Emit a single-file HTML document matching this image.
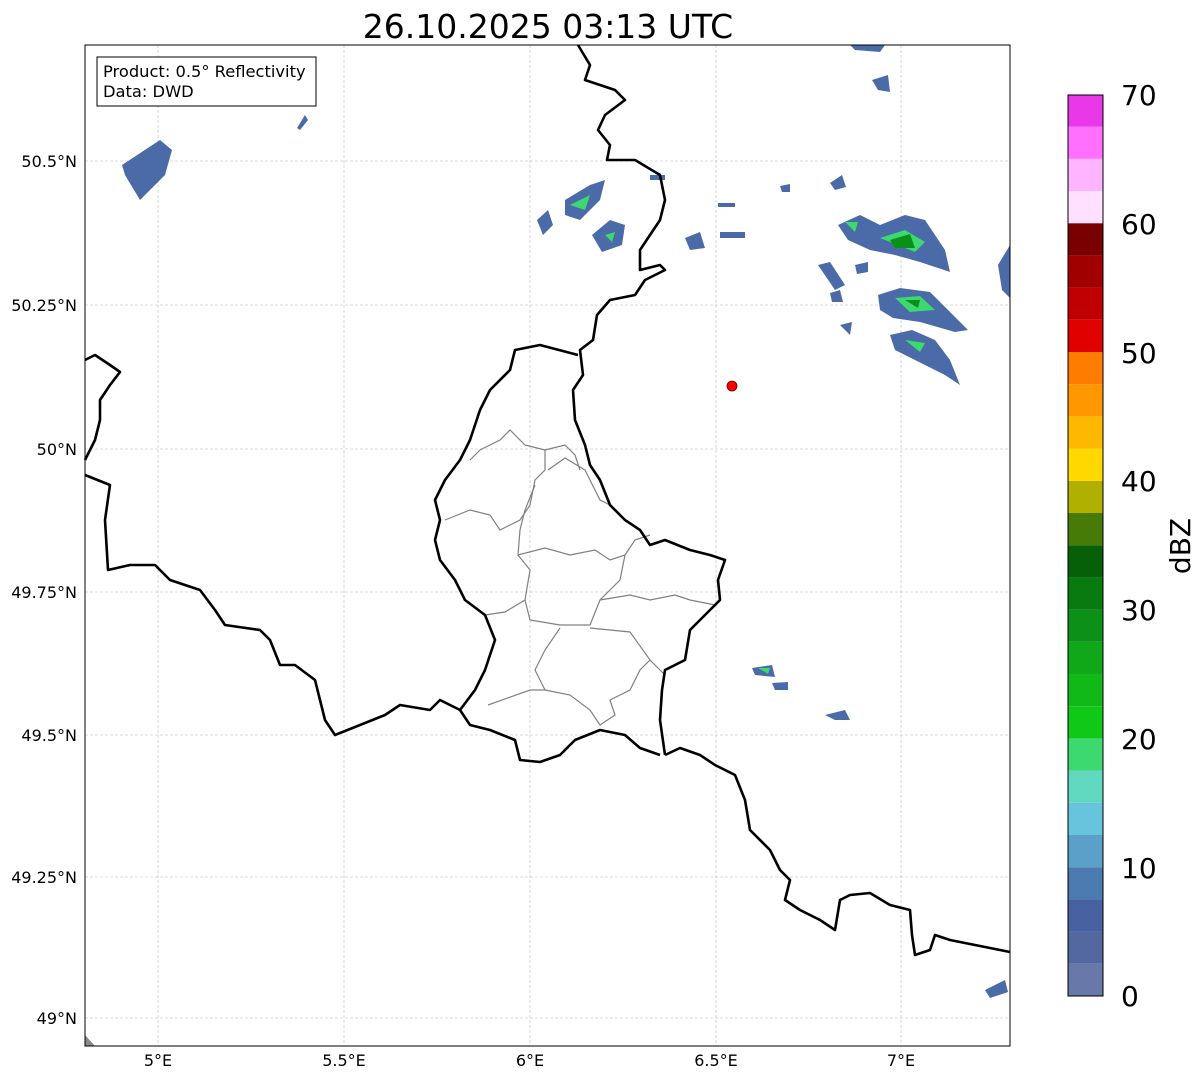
<!DOCTYPE html>
<html><head><meta charset="utf-8"><style>
body{margin:0;background:#fff;}
svg{display:block;font-family:"DejaVu Sans","Liberation Sans",sans-serif;}
</style></head><body>
<svg width="1202" height="1081" viewBox="0 0 1202 1081">
<rect width="1202" height="1081" fill="#fff"/>
<text x="548" y="38" font-size="33" text-anchor="middle">26.10.2025 03:13 UTC</text>
<g stroke="#b8b8b8" stroke-width="0.6" stroke-dasharray="3,2">
<line x1="158" y1="45" x2="158" y2="1046"/><line x1="344" y1="45" x2="344" y2="1046"/>
<line x1="530" y1="45" x2="530" y2="1046"/><line x1="716" y1="45" x2="716" y2="1046"/>
<line x1="901" y1="45" x2="901" y2="1046"/>
<line x1="85" y1="161" x2="1010" y2="161"/><line x1="85" y1="305" x2="1010" y2="305"/>
<line x1="85" y1="449" x2="1010" y2="449"/><line x1="85" y1="592" x2="1010" y2="592"/>
<line x1="85" y1="735" x2="1010" y2="735"/><line x1="85" y1="877" x2="1010" y2="877"/>
<line x1="85" y1="1018" x2="1010" y2="1018"/>
</g>
<g fill="#4a6aa8">
<polygon points="122,165 160,140 172,150 165,175 140,200 125,175"/>
<polygon points="297,128 305,115 308,120 300,130"/>
<polygon points="537,220 548,210 553,225 543,235"/>
<polygon points="565,200 590,185 605,180 600,200 580,220 565,215"/>
<polygon points="592,235 610,220 625,225 622,245 602,252"/>
<polygon points="685,238 700,232 705,248 690,250"/>
<polygon points="850,45 885,45 880,52 855,50"/>
<polygon points="872,80 888,75 890,92 878,90"/>
<polygon points="830,183 842,175 846,187 835,190"/>
<polygon points="780,186 790,184 790,192 782,192"/>
<polygon points="838,225 860,215 880,225 905,215 925,220 945,250 950,272 920,262 895,255 870,250 848,240"/>
<polygon points="818,265 830,262 845,285 835,290"/>
<polygon points="855,265 868,262 868,272 857,274"/>
<polygon points="830,293 840,290 843,302 832,302"/>
<polygon points="878,295 900,288 930,292 950,312 968,330 955,332 920,322 893,318 880,310"/>
<polygon points="890,335 912,330 935,340 950,360 960,385 945,375 915,360 895,350"/>
<polygon points="840,325 852,322 850,335"/>
<polygon points="998,265 1010,245 1010,298 1002,290"/>
<polygon points="752,668 772,665 775,677 755,675"/>
<polygon points="772,683 788,682 788,690 775,690"/>
<polygon points="825,715 845,710 850,720 835,720"/>
<polygon points="985,990 1005,980 1008,992 990,998"/>
<polygon points="650,175 665,175 665,180 650,180"/>
<polygon points="718,203 735,203 735,207 718,207"/>
<polygon points="720,232 745,232 745,238 720,238"/>
</g>
<g fill="#3cd870">
<polygon points="570,205 590,195 585,210"/><polygon points="880,238 905,230 925,242 915,252"/>
<polygon points="895,298 920,296 935,310 910,312"/><polygon points="905,340 925,343 920,352"/>
<polygon points="845,222 858,222 855,232"/><polygon points="758,668 770,668 768,674"/>
<polygon points="605,235 615,232 612,242"/>
</g>
<g fill="#0a9018"><polygon points="890,240 910,234 915,248 895,248"/><polygon points="905,300 920,300 918,308"/></g>
<g fill="none" stroke="#808080" stroke-width="1.2">
<polyline points="445,520 470,510 490,515 500,530 520,520 530,505 535,480 545,470 545,450 525,445 510,430 500,440 490,445 480,450 470,460"/>
<polyline points="545,450 565,445 575,455 580,470"/>
<polyline points="548,470 565,458 585,470 600,500 610,505"/>
<polyline points="535,485 525,510 520,530 518,555 545,548 570,555 595,550 610,560 625,555 635,540 650,535"/>
<polyline points="518,555 530,570 525,600 505,612 485,615"/>
<polyline points="625,555 620,580 600,600 590,625 560,625 530,620 525,600"/>
<polyline points="600,600 630,595 650,600 675,595 690,600 715,605"/>
<polyline points="590,628 630,632 650,660 665,675"/>
<polyline points="560,628 545,650 535,670 545,690 530,690 488,705"/>
<polyline points="545,690 570,695 590,710 600,725 615,715 610,700 630,690 640,670 650,660"/>
</g>
<g fill="none" stroke="#000" stroke-width="2.6" stroke-linejoin="round">
<polyline points="578,45 590,65 585,80 600,85 615,90 625,100 605,115 598,130 610,145 607,160 635,160 660,175 665,200 660,220 650,235 640,250 640,270 660,265 665,270 645,280 635,295 610,300 597,315 593,340 580,350 583,375 573,390 575,420 585,445 590,465 600,480 610,505 625,520 640,530 650,545 665,540 690,550 710,555 725,560 718,580 720,600 705,615 690,630 685,660 665,670 662,690 660,720 665,755"/>
<polyline points="665,755 680,748 700,755 715,765 735,775 745,800 750,830 770,850 780,870 790,880 785,900 800,910 820,920 835,930 840,900 850,895 870,893 890,905 910,910 912,935 915,955 930,950 935,935 950,940 975,945 1010,952"/>
<polyline points="578,355 540,345 515,350 510,370 490,390 480,410 470,440 460,460 445,480 435,500 440,520 435,540 440,560 455,580 465,600 485,615 495,640 485,670 475,690 460,710 470,725 490,730 515,740 520,760 540,762 560,755 575,740 600,730 625,735 640,748 660,755"/>
<polyline points="85,475 110,485 105,520 108,570 130,565 155,565 170,580 200,590 215,610 225,625 260,630 270,640 280,665 295,665 315,680 320,700 325,720 335,735 360,725 385,715 400,705 430,710 440,700 460,710"/>
<polyline points="85,360 95,355 110,365 120,372 110,385 100,400 100,420 95,440 85,460"/>
</g>
<circle cx="732" cy="386" r="5" fill="#f00" stroke="#600" stroke-width="0.8"/>
<polygon points="85,1035 95,1046 85,1046" fill="#888"/>
<rect x="85" y="45" width="925" height="1001" fill="none" stroke="#000" stroke-width="1"/>
<rect x="97" y="57" width="219" height="49" fill="#fff" stroke="#000" stroke-width="1"/>
<text x="103" y="77" font-size="16.3">Product: 0.5° Reflectivity</text>
<text x="103" y="97" font-size="16.3">Data: DWD</text>
<g font-size="16" text-anchor="end">
<text x="77" y="167">50.5°N</text><text x="77" y="311">50.25°N</text><text x="77" y="455">50°N</text>
<text x="77" y="598">49.75°N</text><text x="77" y="741">49.5°N</text><text x="77" y="883">49.25°N</text>
<text x="77" y="1024">49°N</text>
</g>
<g font-size="16" text-anchor="middle">
<text x="158" y="1066">5°E</text><text x="344" y="1066">5.5°E</text><text x="530" y="1066">6°E</text>
<text x="716" y="1066">6.5°E</text><text x="901" y="1066">7°E</text>
</g>
<g>
<rect x="1068" y="963.8" width="35" height="32.2" fill="#6878a8"/>
<rect x="1068" y="931.6" width="35" height="32.2" fill="#5468a0"/>
<rect x="1068" y="899.4" width="35" height="32.2" fill="#4660a0"/>
<rect x="1068" y="867.2" width="35" height="32.2" fill="#4a7ab0"/>
<rect x="1068" y="835" width="35" height="32.2" fill="#5aa0c8"/>
<rect x="1068" y="802.8" width="35" height="32.2" fill="#68c4dc"/>
<rect x="1068" y="770.6" width="35" height="32.2" fill="#60d8c0"/>
<rect x="1068" y="738.4" width="35" height="32.2" fill="#3cd870"/>
<rect x="1068" y="706.2" width="35" height="32.2" fill="#10c818"/>
<rect x="1068" y="674" width="35" height="32.2" fill="#10b818"/>
<rect x="1068" y="641.8" width="35" height="32.2" fill="#10a818"/>
<rect x="1068" y="609.6" width="35" height="32.2" fill="#0c9018"/>
<rect x="1068" y="577.4" width="35" height="32.2" fill="#087a10"/>
<rect x="1068" y="545.2" width="35" height="32.2" fill="#066008"/>
<rect x="1068" y="513" width="35" height="32.2" fill="#487a08"/>
<rect x="1068" y="480.8" width="35" height="32.2" fill="#b0b000"/>
<rect x="1068" y="448.6" width="35" height="32.2" fill="#ffd800"/>
<rect x="1068" y="416.4" width="35" height="32.2" fill="#ffb800"/>
<rect x="1068" y="384.2" width="35" height="32.2" fill="#ff9800"/>
<rect x="1068" y="352" width="35" height="32.2" fill="#ff7c00"/>
<rect x="1068" y="319.8" width="35" height="32.2" fill="#e00000"/>
<rect x="1068" y="287.6" width="35" height="32.2" fill="#c00000"/>
<rect x="1068" y="255.4" width="35" height="32.2" fill="#a00000"/>
<rect x="1068" y="223.2" width="35" height="32.2" fill="#780000"/>
<rect x="1068" y="191" width="35" height="32.2" fill="#ffe0ff"/>
<rect x="1068" y="158.8" width="35" height="32.2" fill="#ffb4ff"/>
<rect x="1068" y="126.6" width="35" height="32.2" fill="#ff70ff"/>
<rect x="1068" y="95" width="35" height="31.6" fill="#e838e8"/>
<rect x="1068" y="95" width="35" height="901" fill="none" stroke="#000" stroke-width="1"/>
</g>
<g font-size="28">
<text x="1121" y="1006">0</text><text x="1121" y="878">10</text><text x="1121" y="749">20</text>
<text x="1121" y="620">30</text><text x="1121" y="491">40</text><text x="1121" y="363">50</text>
<text x="1121" y="234">60</text><text x="1121" y="105">70</text>
</g>
<text transform="translate(1190,546) rotate(-90)" font-size="28" text-anchor="middle">dBZ</text>
</svg>
</body></html>
